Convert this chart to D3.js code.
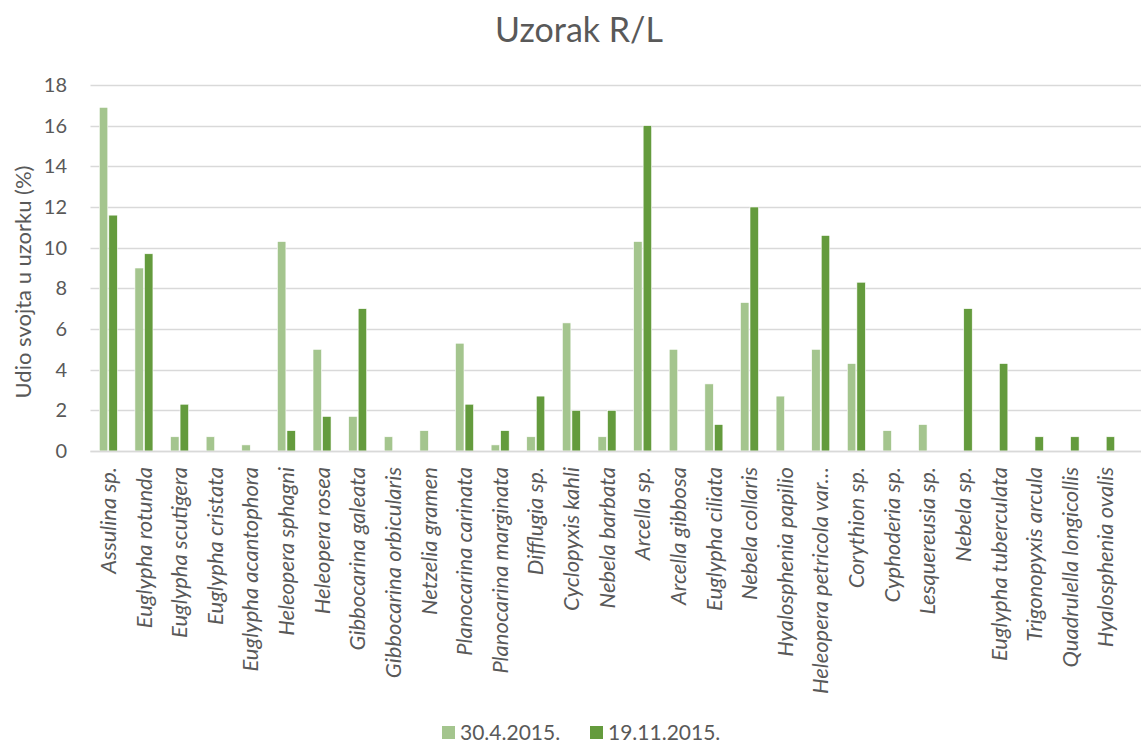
<!DOCTYPE html>
<html>
<head>
<meta charset="utf-8">
<script src="https://cdn.jsdelivr.net/npm/d3@7"></script>
<style>
  body { margin: 0; background: #fff; }
  svg { display: block; font-family: Lato, 'Open Sans', sans-serif; }
</style>
</head>
<body>
<div id="chart"></div>
<script>
// taxa (x categories)
const taxa = [
  'Assulina sp.', 'Euglypha rotunda', 'Euglypha scutigera', 'Euglypha cristata',
  'Euglypha acantophora', 'Heleopera sphagni', 'Heleopera rosea', 'Gibbocarina galeata',
  'Gibbocarina orbicularis', 'Netzelia gramen', 'Planocarina carinata', 'Planocarina marginata',
  'Difflugia sp.', 'Cyclopyxis kahli', 'Nebela barbata', 'Arcella sp.', 'Arcella gibbosa',
  'Euglypha ciliata', 'Nebela collaris', 'Hyalosphenia papilio', 'Heleopera petricola var…',
  'Corythion sp.', 'Cyphoderia sp.', 'Lesquereusia sp.', 'Nebela sp.', 'Euglypha tuberculata',
  'Trigonopyxis arcula', 'Quadrulella longicollis', 'Hyalosphenia ovalis'
]
const seriesNames = ['30.4.2015.', '19.11.2015.']
const april = [16.9, 9.0, 0.7, 0.7, 0.3, 10.3, 5.0, 1.7, 0.7, 1.0, 5.3, 0.3, 0.7, 6.3, 0.7,
  10.3, 5.0, 3.3, 7.3, 2.7, 5.0, 4.3, 1.0, 1.3, 0, 0, 0, 0, 0]
const november = [11.6, 9.7, 2.3, 0, 0, 1.0, 1.7, 7.0, 0, 0, 2.3, 1.0, 2.7, 2.0, 2.0,
  16.0, 0, 1.3, 12.0, 0, 10.6, 8.3, 0, 0, 7.0, 4.3, 0.7, 0.7, 0.7]
const yTicks = [0, 2, 4, 6, 8, 10, 12, 14, 16, 18]
const colors = ['#a4c58e', '#649b3d']

const width = 1141
const height = 745
const plot = { left: 90.5, right: 1123.5, top: 85, bottom: 451 }

const svg = d3.select('#chart').append('svg')
  .attr('width', width)
  .attr('height', height)

const x0 = d3.scaleBand()
  .domain(taxa)
  .range([plot.left, plot.right])
  .paddingInner(0.494)
  .paddingOuter(0.247)

const x1 = d3.scaleBand()
  .domain(seriesNames)
  .range([0, x0.bandwidth()])
  .paddingInner(0.11)

const y = d3.scaleLinear()
  .domain([0, 18])
  .range([plot.bottom, plot.top])

// title
svg.append('text')
  .attr('x', 579)
  .attr('y', 42)
  .attr('text-anchor', 'middle')
  .attr('font-size', 34)
  .attr('fill', '#595959')
  .text('Uzorak R/L')

// gridlines
svg.append('g')
  .selectAll('line')
  .data(yTicks)
  .enter()
  .append('line')
  .attr('x1', plot.left)
  .attr('x2', width)
  .attr('y1', d => Math.round(y(d)) + 0.5)
  .attr('y2', d => Math.round(y(d)) + 0.5)
  .attr('stroke', '#d9d9d9')
  .attr('stroke-width', 1.5)

// y axis labels
const yAxis = svg.append('g')
  .attr('transform', 'translate(' + 67 + ',0)')
  .call(d3.axisLeft(y).tickValues(yTicks).tickSize(0).tickPadding(0))
yAxis.select('.domain').remove()
yAxis.selectAll('text')
  .attr('font-size', 20)
  .attr('font-family', 'Lato, sans-serif')
  .attr('fill', '#595959')

svg.append('text')
  .attr('transform', 'translate(31,' + 282 + ') rotate(-90)')
  .attr('text-anchor', 'middle')
  .attr('font-size', 22)
  .attr('fill', '#595959')
  .text('Udio svojta u uzorku (%)')

// bars
const group = svg.append('g')
  .selectAll('.taxon')
  .data(taxa)
  .enter()
  .append('g')
  .attr('class', 'taxon')
  .attr('transform', d => 'translate(' + x0(d) + ',0)')

group.selectAll('rect')
  .data((d, i) => [april[i], november[i]].map((v, k) => ({ key: seriesNames[k], value: v, k: k })))
  .enter()
  .append('rect')
  .filter(d => d.value > 0)
  .attr('x', d => x1(d.key))
  .attr('y', d => y(d.value))
  .attr('width', x1.bandwidth())
  .attr('height', d => y(0) - y(d.value))
  .attr('fill', d => colors[d.k])
  .attr('stroke', '#fff')
  .attr('stroke-width', 0.6)

// x axis
const xAxis = svg.append('g')
  .attr('transform', 'translate(0,' + plot.bottom + ')')
  .call(d3.axisBottom(x0).tickSize(0).tickPadding(0))
xAxis.select('.domain')
  .attr('stroke', '#d9d9d9')
  .attr('stroke-width', 1.5)
  .attr('d', 'M' + plot.left + ',0.5H' + width)
xAxis.selectAll('text')
  .attr('font-size', 22)
  .attr('font-style', 'italic')
  .attr('font-family', 'Lato, sans-serif')
  .attr('fill', '#595959')
  .attr('text-anchor', 'end')
  .attr('dy', '0.35em')
  .attr('transform', 'translate(0,16) rotate(-90)')
  .attr('x', 0)
  .attr('y', 0)

// legend
const legendPos = [442, 590]
const legend = svg.append('g')
  .selectAll('.legend')
  .data(seriesNames)
  .enter()
  .append('g')
  .attr('class', 'legend')
  .attr('transform', (d, i) => 'translate(' + legendPos[i] + ',726)')

legend.append('rect')
  .attr('width', 13)
  .attr('height', 13)
  .attr('fill', (d, i) => colors[i])

legend.append('text')
  .attr('x', 18)
  .attr('y', 14)
  .attr('font-size', 21)
  .attr('fill', '#595959')
  .text(d => d)
</script>
</body>
</html>
